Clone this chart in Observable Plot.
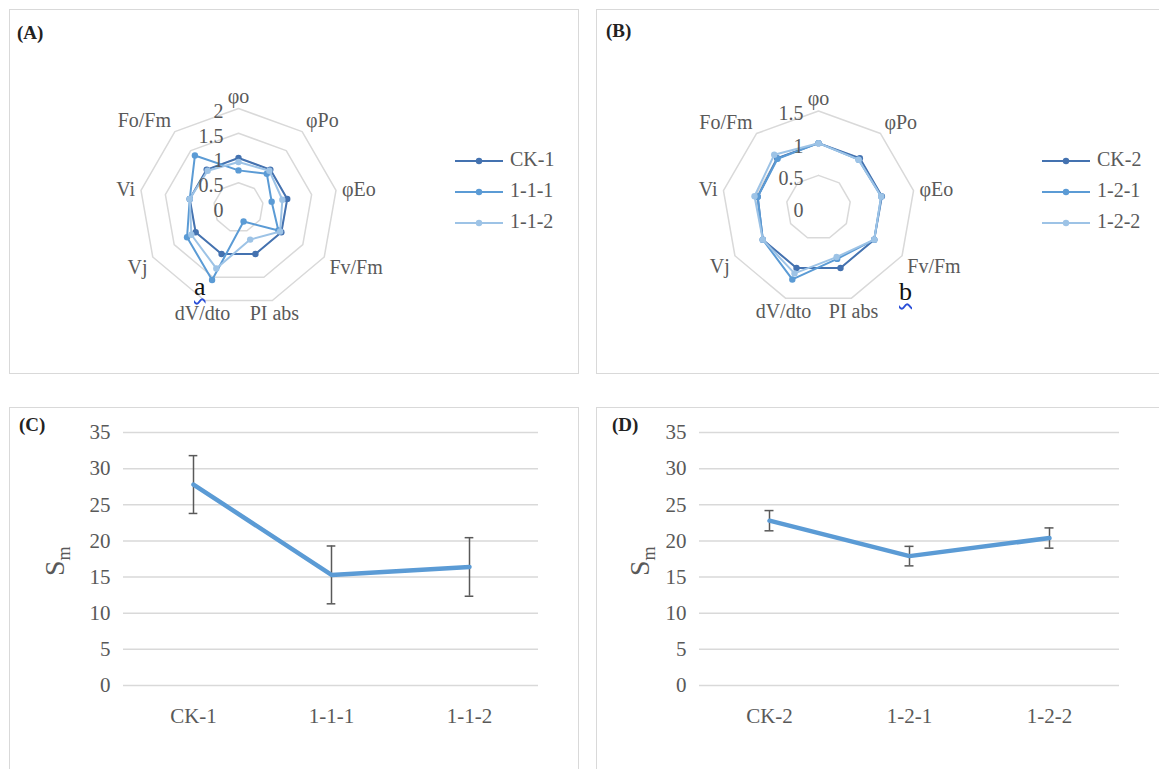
<!DOCTYPE html>
<html><head><meta charset="utf-8">
<script src="https://cdn.jsdelivr.net/npm/d3@7"></script>
<script src="https://cdn.jsdelivr.net/npm/@observablehq/plot@0.6"></script>
<style>
body{margin:0;background:#fff;width:1159px;height:769px;overflow:hidden;position:relative;font-family:"Liberation Serif","Times New Roman",serif;}
.panel{position:absolute;border:1.5px solid #d9d9d9;box-sizing:border-box;}
.holder{position:absolute;}
.plabel{position:absolute;font-weight:bold;font-size:19px;color:#222;line-height:1;}
.legend{position:absolute;font-size:20px;color:#595959;line-height:1;}
.legend .row{position:absolute;white-space:nowrap;}
.legend svg{vertical-align:middle;}
.mark{position:absolute;font-size:26px;color:#111;line-height:1;text-decoration:underline wavy #2b4fd8;text-decoration-thickness:1.5px;text-underline-offset:3px;}
.ylab{position:absolute;font-size:28px;color:#595959;transform:rotate(-90deg);transform-origin:center;white-space:nowrap;line-height:1;}
.ylab sub{font-size:18px;}
</style></head>
<body>
<div class="panel" style="left:9px;top:9px;width:570px;height:365px"></div>
<div class="panel" style="left:596px;top:9px;width:565px;height:365px"></div>
<div class="panel" style="left:9px;top:407px;width:570px;height:370px"></div>
<div class="panel" style="left:596px;top:407px;width:565px;height:370px"></div>

<div id="A" class="holder" style="left:9px;top:9px"></div>
<div id="B" class="holder" style="left:596px;top:9px"></div>
<div id="C" class="holder" style="left:9px;top:407px"></div>
<div id="D" class="holder" style="left:596px;top:407px"></div>

<div class="plabel" style="left:17px;top:23px">(A)</div>
<div class="plabel" style="left:606px;top:21px">(B)</div>
<div class="plabel" style="left:19px;top:415px">(C)</div>
<div class="plabel" style="left:612px;top:415px">(D)</div>

<div class="mark" style="left:194px;top:274px">a</div>
<div class="mark" style="left:899px;top:279px">b</div>

<div class="ylab" style="left:42px;top:545px">S<sub>m</sub></div>
<div class="ylab" style="left:627px;top:545px">S<sub>m</sub></div>

<div id="legA" class="legend" style="left:455px;top:0px"></div>
<div id="legB" class="legend" style="left:1042px;top:0px"></div>

<script>
// ---- data ----
const radarAxes = ["φo","φPo","φEo","Fv/Fm","PI abs","dV/dto","Vj","Vi","Fo/Fm"];

const namesA = ["CK-1","1-1-1","1-1-2"];
const valsCK1 = [1,1,1,1,1,1,1,1,1];
const vals111 = [0.75,0.89,0.68,0.93,0.30,1.56,1.20,1.00,1.37];
const vals112 = [0.92,0.97,0.90,0.97,0.69,1.31,1.10,1.00,0.97];
const ringsA = [0.5,1,1.5,2];
const ringLabelsA = [0,0.5,1,1.5,2];

const namesB = ["CK-2","1-2-1","1-2-2"];
const valsCK2 = [1,1,1,1,1,1,1,0.96,1];
const vals121 = [1,0.97,0.99,1,0.85,1.19,1,0.96,0.99];
const vals122 = [1,0.97,0.99,1,0.82,1.09,1,1.01,1.07];
const ringsB = [0.5,1,1.5];
const ringLabelsB = [0,0.5,1,1.5];

const catsC = ["CK-1","1-1-1","1-1-2"];
const smC = [27.8,15.3,16.4];
const errC = [4.0,4.0,4.05];

const catsD = ["CK-2","1-2-1","1-2-2"];
const smD = [22.8,17.9,20.4];
const errD = [1.4,1.35,1.4];

const yTicks = [0,5,10,15,20,25,30,35];

const seriesColors = ["#4472b0","#5b9bd5","#9dc3e6"];
const textGray = "#595959";
const gridGray = "#d9d9d9";
const FONT = '"Liberation Serif","Times New Roman",serif';

// ---- radar ----
function radar({axes, names, series, rings, ringLabels, maxV, R, cx, cy, w, h}) {
  const n = axes.length;
  const ang = k => 2 * Math.PI * k / n;
  const lines = [];
  series.forEach((vals, i) => {
    for (let k = 0; k <= n; k++) {
      const v = vals[k % n];
      lines.push({name: names[i], s: i, v, x: v * Math.sin(ang(k)), y: v * Math.cos(ang(k)), k});
    }
  });
  const ringPts = [];
  rings.forEach(r => { for (let k = 0; k <= n; k++) ringPts.push({r, x: r * Math.sin(ang(k)), y: r * Math.cos(ang(k))}); });
  const lr = maxV * (1 + 6 / R);
  const labs = axes.map((a, k) => {
    const s = Math.sin(ang(k)), c = Math.cos(ang(k));
    return {a, x: lr * s, y: lr * c,
      ta: s > 0.4 ? "start" : s < -0.4 ? "end" : "middle",
      la: c > 0.3 ? "bottom" : c < -0.3 ? "top" : "middle"};
  });
  const combos = Array.from(new Set(labs.map(d => d.ta + "|" + d.la)));
  const ringText = ringLabels.map(v => ({v, x: 0, y: v}));
  const marks = [
    Plot.line(ringPts, {x: "x", y: "y", z: "r", stroke: gridGray, strokeWidth: 1.5})
  ];
  series.forEach((vals, i) => {
    const d = lines.filter(p => p.s === i);
    marks.push(Plot.line(d, {x: "x", y: "y", stroke: seriesColors[i], strokeWidth: 2}));
    marks.push(Plot.dot(d.slice(0, n), {x: "x", y: "y", r: 3.2, fill: seriesColors[i], stroke: "none"}));
  });
  marks.push(Plot.text(ringText, {x: "x", y: "y", text: d => String(d.v), textAnchor: "end", dx: -15, dy: 3, fontSize: 20, fill: textGray}));
  combos.forEach(cmb => {
    const [ta, la] = cmb.split("|");
    marks.push(Plot.text(labs.filter(d => d.ta === ta && d.la === la), {x: "x", y: "y", text: "a", textAnchor: ta, lineAnchor: la, fontSize: 20, fill: textGray}));
  });
  return Plot.plot({
    width: w, height: h, margin: 0,
    style: {fontFamily: FONT, background: "transparent", overflow: "visible"},
    x: {type: "linear", domain: [-maxV, maxV], range: [cx - R, cx + R], axis: null},
    y: {type: "linear", domain: [-maxV, maxV], range: [cy + R, cy - R], axis: null},
    marks
  });
}

document.getElementById("A").append(radar({axes: radarAxes, names: namesA, series: [valsCK1, vals111, vals112],
  rings: ringsA, ringLabels: ringLabelsA, maxV: 2, R: 99, cx: 229, cy: 198, w: 569, h: 364}));
document.getElementById("B").append(radar({axes: radarAxes, names: namesB, series: [valsCK2, vals121, vals122],
  rings: ringsB, ringLabels: ringLabelsB, maxV: 1.5, R: 96.5, cx: 222, cy: 198, w: 562, h: 364}));

function legend(el, names) {
  const rowsY = [149, 180, 211];
  names.forEach((nm, i) => {
    const row = document.createElement("div");
    row.className = "row";
    row.style.top = rowsY[i] + "px";
    row.innerHTML = `<svg width="55" height="20"><line x1="0" x2="48" y1="10" y2="10" stroke="${seriesColors[i]}" stroke-width="2"/><circle cx="24" cy="10" r="3.2" fill="${seriesColors[i]}"/></svg><span>${nm}</span>`;
    el.append(row);
  });
}
legend(document.getElementById("legA"), namesA);
legend(document.getElementById("legB"), namesB);

// ---- line charts ----
function lineChart({cats, vals, errs, w, h, ml, mr}) {
  const data = cats.map((c, i) => ({c, v: vals[i], lo: vals[i] - errs[i], hi: vals[i] + errs[i]}));
  const bw = (w - ml - mr) / cats.length;
  const inset = (bw - 9) / 2;
  return Plot.plot({
    width: w, height: h, marginLeft: ml, marginRight: mr, marginTop: 25, marginBottom: h - 278,
    style: {fontFamily: FONT, fontSize: "21px", color: textGray, background: "transparent"},
    x: {type: "band", domain: cats, padding: 0, label: null, tickSize: 0, tickPadding: 23},
    y: {domain: [0, 35], ticks: yTicks, label: null, tickSize: 0, tickPadding: 13},
    marks: [
      Plot.ruleY(yTicks, {stroke: gridGray, strokeWidth: 1.5}),
      Plot.ruleX(data, {x: "c", y1: "lo", y2: "hi", stroke: textGray, strokeWidth: 1.5}),
      Plot.tickY(data, {x: "c", y: "lo", stroke: textGray, strokeWidth: 1.5, insetLeft: inset, insetRight: inset}),
      Plot.tickY(data, {x: "c", y: "hi", stroke: textGray, strokeWidth: 1.5, insetLeft: inset, insetRight: inset}),
      Plot.line(data, {x: "c", y: "v", stroke: "#5b9bd5", strokeWidth: 4.5})
    ]
  });
}
document.getElementById("C").append(lineChart({cats: catsC, vals: smC, errs: errC, w: 569, h: 362, ml: 114, mr: 40}));
document.getElementById("D").append(lineChart({cats: catsD, vals: smD, errs: errD, w: 562, h: 362, ml: 103, mr: 39}));
</script>
</body></html>
